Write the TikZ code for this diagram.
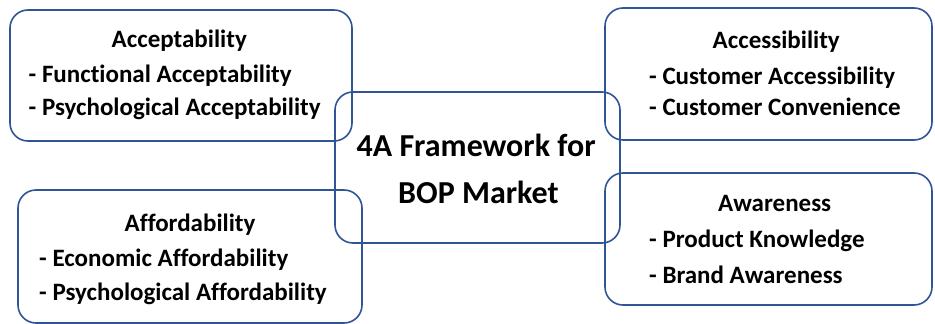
\documentclass[tikz,border=0pt]{standalone}
\usepackage{fontspec}
\setmainfont{Carlito}[Ligatures=NoCommon]
\usepackage{tikz}
\usetikzlibrary{positioning}
\definecolor{boxblue}{RGB}{47,85,151}

\begin{document}
\begin{tikzpicture}[x=1pt, y=-1pt,
        abox/.style={draw=boxblue, line width=1.6pt, rounded corners=18pt,
            minimum width=#1, minimum height=132pt},
        abox/.default=327pt,
        txt/.style={inner sep=0pt, anchor=base west, font=\fontsize{25}{30}\selectfont\bfseries},
        big/.style={txt, font=\fontsize{32}{40}\selectfont\bfseries}]
        \useasboundingbox (0,0) rectangle (935,324);

        % boxes
        \node[abox=285pt, minimum height=151pt] (frame) at (477.5,167.5) {};
        \node[abox=342pt, minimum height=131pt] (accept) at (181,75.5) {};
        \node[abox] (access) at (768.5,74) {};
        \node[abox] (aware) at (768.5,239) {};
        \node[abox=344pt, minimum height=133pt] (afford) at (190,256.5) {};

        % framework title
        \node[big] (frame1) at (356.5,156.7) {4A Framework for};
        \node[big] (frame2) at (398,203.3) {BOP Market};

        % acceptability
        \node[txt] (accept0) at (111.5,47.7) {Acceptability};
        \node[txt] (accept1) at (28.5,82.7) {- Functional Acceptability};
        \node[txt] (accept2) at (28.5,115) {- Psychological Acceptability};

        % accessibility
        \node[txt] (access0) at (712.5,48.3) {Accessibility};
        \node[txt] (access1) at (649,84.3) {- Customer Accessibility};
        \node[txt] (access2) at (649,115.7) {- Customer Convenience};

        % awareness
        \node[txt] (aware0) at (718,211.7) {Awareness};
        \node[txt] (aware1) at (649,247.7) {- Product Knowledge};
        \node[txt] (aware2) at (649,283.3) {- Brand Awareness};

        % affordability
        \node[txt] (afford0) at (124.5,231.7) {Affordability};
        \node[txt] (afford1) at (39,266) {- Economic Affordability};
        \node[txt] (afford2) at (39,300) {- Psychological Affordability};
\end{tikzpicture}
\end{document}
